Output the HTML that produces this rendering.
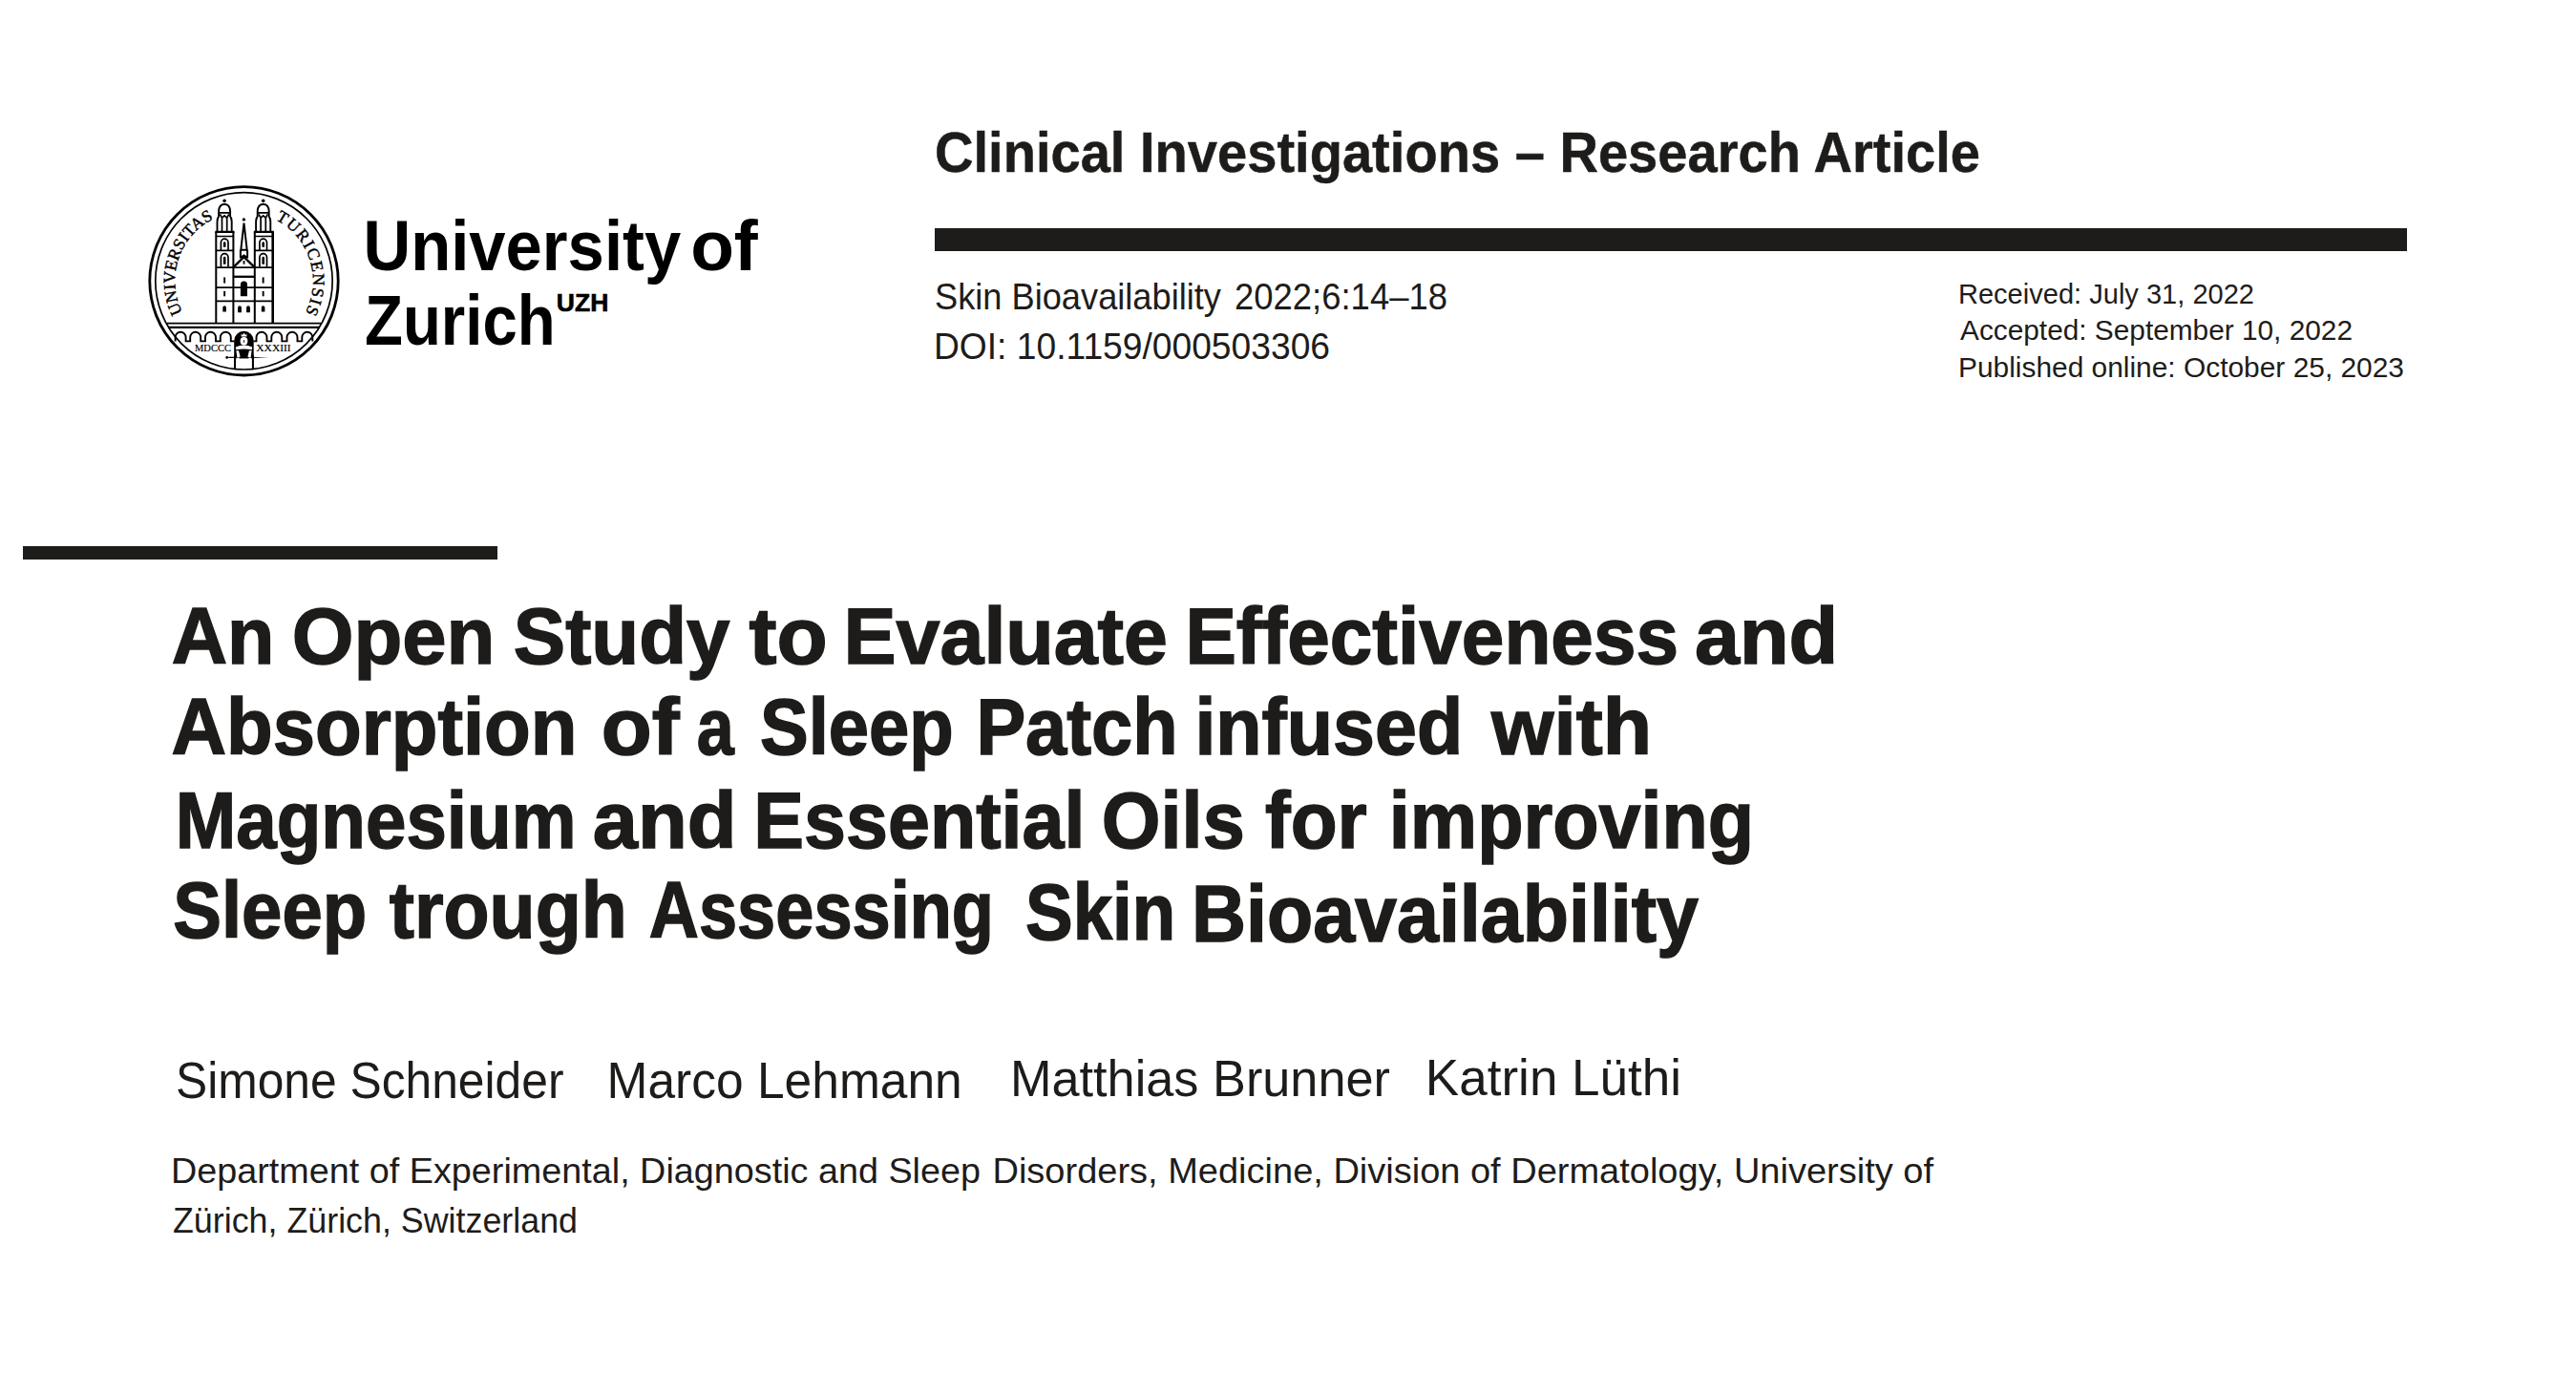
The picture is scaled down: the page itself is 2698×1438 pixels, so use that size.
<!DOCTYPE html>
<html><head><meta charset="utf-8"><title>Clinical Investigations – Research Article</title>
<style>
html,body{margin:0;padding:0;background:#fff;}
body{width:2698px;height:1438px;overflow:hidden;position:relative;}
svg{position:absolute;left:0;top:0;}
svg{font-family:"Liberation Sans",sans-serif;}
</style></head><body>
<svg width="2698" height="1438" viewBox="0 0 2698 1438">
<rect x="979" y="239" width="1542" height="24" fill="#1e1c1a"/>
<rect x="24" y="572" width="497" height="14" fill="#1e1c1a"/>
<text x="978.99" y="180.00" font-size="59.00" font-weight="700" fill="#1e1c1a" stroke="#1e1c1a" stroke-width="0.50" textLength="1095.01" lengthAdjust="spacingAndGlyphs">Clinical Investigations – Research Article</text>
<text x="978.99" y="324.00" font-size="39.00" font-weight="400" fill="#1e1c1a" textLength="300.01" lengthAdjust="spacingAndGlyphs">Skin Bioavailability</text>
<text x="1292.97" y="324.00" font-size="39.00" font-weight="400" fill="#1e1c1a" textLength="223.04" lengthAdjust="spacingAndGlyphs">2022;6:14–18</text>
<text x="977.96" y="375.50" font-size="39.00" font-weight="400" fill="#1e1c1a" textLength="415.06" lengthAdjust="spacingAndGlyphs">DOI: 10.1159/000503306</text>
<text x="2050.98" y="317.60" font-size="30.00" font-weight="400" fill="#1e1c1a" textLength="310.03" lengthAdjust="spacingAndGlyphs">Received: July 31, 2022</text>
<text x="2053.00" y="356.40" font-size="30.00" font-weight="400" fill="#1e1c1a" textLength="411.00" lengthAdjust="spacingAndGlyphs">Accepted: September 10, 2022</text>
<text x="2050.99" y="395.40" font-size="30.00" font-weight="400" fill="#1e1c1a" textLength="467.02" lengthAdjust="spacingAndGlyphs">Published online: October 25, 2023</text>
<text x="380.44" y="282.60" font-size="74.00" font-weight="700" fill="#000" textLength="332.77" lengthAdjust="spacingAndGlyphs">University</text>
<text x="723.15" y="282.60" font-size="74.00" font-weight="700" fill="#000" textLength="70.65" lengthAdjust="spacingAndGlyphs">of</text>
<text x="382.02" y="361.20" font-size="74.00" font-weight="700" fill="#000" textLength="199.59" lengthAdjust="spacingAndGlyphs">Zurich</text>
<text x="582.79" y="325.80" font-size="26.50" font-weight="700" fill="#000" stroke="#000" stroke-width="0.60" textLength="54.50" lengthAdjust="spacingAndGlyphs">UZH</text>
<text x="179.64" y="695.00" font-size="84.00" font-weight="700" fill="#1e1c1a" stroke="#1e1c1a" stroke-width="1.50" textLength="107.77" lengthAdjust="spacingAndGlyphs">An</text>
<text x="305.67" y="695.00" font-size="84.00" font-weight="700" fill="#1e1c1a" stroke="#1e1c1a" stroke-width="1.50" textLength="212.72" lengthAdjust="spacingAndGlyphs">Open</text>
<text x="537.78" y="695.00" font-size="84.00" font-weight="700" fill="#1e1c1a" stroke="#1e1c1a" stroke-width="1.50" textLength="226.64" lengthAdjust="spacingAndGlyphs">Study</text>
<text x="784.53" y="695.00" font-size="84.00" font-weight="700" fill="#1e1c1a" stroke="#1e1c1a" stroke-width="1.50" textLength="82.23" lengthAdjust="spacingAndGlyphs">to</text>
<text x="883.59" y="695.00" font-size="84.00" font-weight="700" fill="#1e1c1a" stroke="#1e1c1a" stroke-width="1.50" textLength="339.39" lengthAdjust="spacingAndGlyphs">Evaluate</text>
<text x="1241.41" y="695.00" font-size="84.00" font-weight="700" fill="#1e1c1a" stroke="#1e1c1a" stroke-width="1.50" textLength="516.64" lengthAdjust="spacingAndGlyphs">Effectiveness</text>
<text x="1775.06" y="695.00" font-size="84.00" font-weight="700" fill="#1e1c1a" stroke="#1e1c1a" stroke-width="1.50" textLength="150.18" lengthAdjust="spacingAndGlyphs">and</text>
<text x="179.46" y="790.00" font-size="84.00" font-weight="700" fill="#1e1c1a" stroke="#1e1c1a" stroke-width="1.50" textLength="425.01" lengthAdjust="spacingAndGlyphs">Absorption</text>
<text x="629.72" y="790.00" font-size="84.00" font-weight="700" fill="#1e1c1a" stroke="#1e1c1a" stroke-width="1.50" textLength="81.82" lengthAdjust="spacingAndGlyphs">of</text>
<text x="729.84" y="790.00" font-size="84.00" font-weight="700" fill="#1e1c1a" stroke="#1e1c1a" stroke-width="1.50" textLength="38.96" lengthAdjust="spacingAndGlyphs">a</text>
<text x="795.96" y="790.00" font-size="84.00" font-weight="700" fill="#1e1c1a" stroke="#1e1c1a" stroke-width="1.50" textLength="202.80" lengthAdjust="spacingAndGlyphs">Sleep</text>
<text x="1022.39" y="790.00" font-size="84.00" font-weight="700" fill="#1e1c1a" stroke="#1e1c1a" stroke-width="1.50" textLength="211.22" lengthAdjust="spacingAndGlyphs">Patch</text>
<text x="1251.39" y="790.00" font-size="84.00" font-weight="700" fill="#1e1c1a" stroke="#1e1c1a" stroke-width="1.50" textLength="280.78" lengthAdjust="spacingAndGlyphs">infused</text>
<text x="1561.99" y="790.00" font-size="84.00" font-weight="700" fill="#1e1c1a" stroke="#1e1c1a" stroke-width="1.50" textLength="168.12" lengthAdjust="spacingAndGlyphs">with</text>
<text x="183.72" y="888.00" font-size="84.00" font-weight="700" fill="#1e1c1a" stroke="#1e1c1a" stroke-width="1.50" textLength="419.78" lengthAdjust="spacingAndGlyphs">Magnesium</text>
<text x="620.89" y="888.00" font-size="84.00" font-weight="700" fill="#1e1c1a" stroke="#1e1c1a" stroke-width="1.50" textLength="150.75" lengthAdjust="spacingAndGlyphs">and</text>
<text x="789.25" y="888.00" font-size="84.00" font-weight="700" fill="#1e1c1a" stroke="#1e1c1a" stroke-width="1.50" textLength="347.31" lengthAdjust="spacingAndGlyphs">Essential</text>
<text x="1153.87" y="888.00" font-size="84.00" font-weight="700" fill="#1e1c1a" stroke="#1e1c1a" stroke-width="1.50" textLength="149.94" lengthAdjust="spacingAndGlyphs">Oils</text>
<text x="1324.98" y="888.00" font-size="84.00" font-weight="700" fill="#1e1c1a" stroke="#1e1c1a" stroke-width="1.50" textLength="106.75" lengthAdjust="spacingAndGlyphs">for</text>
<text x="1454.86" y="888.00" font-size="84.00" font-weight="700" fill="#1e1c1a" stroke="#1e1c1a" stroke-width="1.50" textLength="382.28" lengthAdjust="spacingAndGlyphs">improving</text>
<text x="181.13" y="981.80" font-size="84.00" font-weight="700" fill="#1e1c1a" stroke="#1e1c1a" stroke-width="1.50" textLength="203.14" lengthAdjust="spacingAndGlyphs">Sleep</text>
<text x="407.79" y="982.20" font-size="84.00" font-weight="700" fill="#1e1c1a" stroke="#1e1c1a" stroke-width="1.50" textLength="248.92" lengthAdjust="spacingAndGlyphs">trough</text>
<text x="679.87" y="981.60" font-size="84.00" font-weight="700" fill="#1e1c1a" stroke="#1e1c1a" stroke-width="1.50" textLength="361.01" lengthAdjust="spacingAndGlyphs">Assessing</text>
<text x="1074.00" y="984.20" font-size="84.00" font-weight="700" fill="#1e1c1a" stroke="#1e1c1a" stroke-width="1.50" textLength="157.16" lengthAdjust="spacingAndGlyphs">Skin</text>
<text x="1247.95" y="985.80" font-size="84.00" font-weight="700" fill="#1e1c1a" stroke="#1e1c1a" stroke-width="1.50" textLength="531.06" lengthAdjust="spacingAndGlyphs">Bioavailability</text>
<text x="183.99" y="1149.80" font-size="54.00" font-weight="400" fill="#1e1c1a" textLength="406.52" lengthAdjust="spacingAndGlyphs">Simone Schneider</text>
<text x="635.53" y="1149.50" font-size="54.00" font-weight="400" fill="#1e1c1a" textLength="372.23" lengthAdjust="spacingAndGlyphs">Marco Lehmann</text>
<text x="1057.95" y="1148.00" font-size="54.00" font-weight="400" fill="#1e1c1a" textLength="398.06" lengthAdjust="spacingAndGlyphs">Matthias Brunner</text>
<text x="1492.87" y="1147.00" font-size="54.00" font-weight="400" fill="#1e1c1a" textLength="268.25" lengthAdjust="spacingAndGlyphs">Katrin Lüthi</text>
<text x="178.99" y="1238.50" font-size="37.00" font-weight="400" fill="#1e1c1a" textLength="848.03" lengthAdjust="spacingAndGlyphs">Department of Experimental, Diagnostic and Sleep</text>
<text x="1039.49" y="1238.50" font-size="37.00" font-weight="400" fill="#1e1c1a" textLength="985.51" lengthAdjust="spacingAndGlyphs">Disorders, Medicine, Division of Dermatology, University of</text>
<text x="180.99" y="1290.50" font-size="37.00" font-weight="400" fill="#1e1c1a" textLength="424.02" lengthAdjust="spacingAndGlyphs">Zürich, Zürich, Switzerland</text>
<g id="logo">
 <defs>
  <path id="arcL" d="M 215.81 354.73 A 72.3 72.3 0 0 1 259.66 222.12"/>
  <path id="arcR" d="M 251.97 222.09 A 72.3 72.3 0 0 1 294.67 355.07"/>
 </defs>
 <g fill="none" stroke="#000">
  <circle cx="255.5" cy="294.3" r="98.7" stroke-width="2.8"/>
  <circle cx="255.5" cy="294.3" r="92.7" stroke-width="1.7"/>
  <!-- bridge -->
  <line x1="175" y1="338.6" x2="336" y2="338.6" stroke-width="1.7"/>
  <line x1="176" y1="342.9" x2="335" y2="342.9" stroke-width="2.3"/>
  <!-- arcade -->
  <path stroke-width="1.9" d="M183.6 357.4 V353.2 A5.5 5.5 0 0 1 194.6 353.2 V357.4 H199.2 V353.2 A5.5 5.5 0 0 1 210.2 353.2 V357.4 H215 V353.2 A5.5 5.5 0 0 1 226 353.2 V357.4 H230.8 V353.2 A5.5 5.5 0 0 1 241.8 353.2 V357.4 H245.5"/>
  <path stroke-width="1.9" d="M265.5 357.4 H268.5 V353.2 A5.5 5.5 0 0 1 279.5 353.2 V357.4 H284.3 V353.2 A5.5 5.5 0 0 1 295.3 353.2 V357.4 H300.5 V353.2 A5.5 5.5 0 0 1 311.5 353.2 V357.4 H316.3 V353.2 A5.5 5.5 0 0 1 327.3 353.2 V357.4"/>
  <!-- towers outlines -->
  <path stroke-width="2.0" d="M226.3 338.6 V242.9 M244.4 338.6 V242.9 M266.8 338.6 V242.9"/>
  <path stroke-width="2.6" d="M285.7 338.6 V242.9"/>
  <path stroke-width="2.1" d="M225.3 242.9 H245.5 M265.8 242.9 H286.8"/>
  <path stroke-width="1.7" d="M226.3 247.5 H244.4 M266.8 247.5 H285.7 M226.3 262.3 H244.4 M266.8 262.3 H285.7"/>
  <path stroke-width="1.8" d="M226.3 280.1 H285.7 M226.3 301.1 H285.7 M226.3 315.3 H285.7"/>
  <path stroke-width="2.3" d="M244.4 289.8 H266.8"/>
  <!-- belfries -->
  <path stroke-width="1.9" d="M227.5 242 V232 Q227.6 228.6 229.1 226.6 V221 Q229.4 214.2 235.1 213.7 Q240.8 214.2 241.1 221 V226.6 Q242.6 228.6 242.7 232 V242"/>
  <path stroke-width="1.7" d="M229.4 222.9 H240.8 M230.4 224.4 L232.5 228.2 L235.1 225.9 L237.7 228.2 L239.8 224.4 M232.5 228 V242 M237.7 228 V242"/>
  <path stroke-width="1.9" d="M268.1 242 V232 Q268.2 228.6 269.7 226.6 V221 Q270.0 214.2 275.7 213.7 Q281.4 214.2 281.7 221 V226.6 Q283.2 228.6 283.3 232 V242"/>
  <path stroke-width="1.7" d="M270.0 222.9 H281.4 M271.0 224.4 L273.1 228.2 L275.7 225.9 L278.3 228.2 L280.4 224.4 M273.1 228 V242 M278.3 228 V242"/>
  <!-- tower windows -->
  <path stroke-width="1.7" d="M231.4 261.9 V254 A3.8 3.8 0 0 1 239 254 V261.9 M231.4 279.6 V269.5 A3.8 3.8 0 0 1 239 269.5 V279.6 M271.9 261.9 V254 A3.8 3.8 0 0 1 279.5 254 V261.9 M271.9 279.6 V269.5 A3.8 3.8 0 0 1 279.5 269.5 V279.6"/>
  <!-- spire -->
  <path stroke-width="2.0" d="M252.3 261.8 L255.5 233.5 L258.7 261.8 M251.6 261.8 H259.4 M251.9 261.8 V270.5 M259.1 261.8 V270.5 M252.4 269.6 L255.5 267.4 L258.6 269.6"/>
  <path stroke-width="2.3" d="M244.7 279.6 L255.5 269.2 L266.3 279.6"/>
  <!-- figure frame sides -->
  <path stroke-width="2.3" d="M246.2 372 V387 M264.8 372 V387"/>
 </g>
 <g fill="#000">
  <circle cx="235.1" cy="210.2" r="1.8"/>
  <circle cx="275.7" cy="210.2" r="1.8"/>
  <circle cx="255.4" cy="229.9" r="1.7"/>
  <circle cx="237.7" cy="374.4" r="1.4"/>
  <rect x="254.6" y="273" width="1.8" height="3.7"/>
  <!-- window inner fills -->
  <path d="M233.9 258.8 V254.6 A1.3 1.3 0 0 1 236.5 254.6 V258.8 Z M233.9 276.7 V270 A1.3 1.3 0 0 1 236.5 270 V276.7 Z M274.4 258.8 V254.6 A1.3 1.3 0 0 1 277 254.6 V258.8 Z M274.4 276.7 V270 A1.3 1.3 0 0 1 277 270 V276.7 Z"/>
  <!-- slits -->
  <rect x="234.2" y="290.4" width="1.9" height="6.2"/>
  <rect x="234.2" y="304.9" width="1.9" height="5.4"/>
  <path d="M233.3 326.4 V322 A1.8 1.8 0 0 1 236.9 322 V326.4 Z"/>
  <rect x="274.7" y="290.4" width="1.9" height="6.2"/>
  <rect x="274.7" y="304.9" width="1.9" height="5.4"/>
  <path d="M273.8 326.4 V322 A1.8 1.8 0 0 1 277.4 322 V326.4 Z"/>
  <!-- central door and windows -->
  <path d="M251.9 310.3 V298 A3.55 3.55 0 0 1 259 298 V310.3 Z"/>
  <path d="M249.1 327.3 V322.2 A1.9 1.9 0 0 1 252.9 322.2 V327.3 Z M258.1 327.3 V322.2 A1.9 1.9 0 0 1 261.9 322.2 V327.3 Z"/>
  <!-- figure -->
  <path d="M245.2 375 V357 A10.25 10.25 0 0 1 265.7 357 V375 Z"/>
  <path d="M239.3 373.8 L262 373.7 L281.6 374.4 L262 375.1 L239.3 375 Z"/>
 </g>
 <g fill="#fff">
  <path d="M252.6 352.6 V349.4 L254 351 L255.5 348.6 L257 351 L258.4 349.4 V352.6 Z"/>
  <ellipse cx="255.5" cy="357.3" rx="3.9" ry="4.2"/>
  <path d="M246.8 363.6 Q255.5 359.6 264.2 363.6 L263.8 366.2 Q255.5 364.8 247.2 366.2 Z"/>
  <path d="M247.4 367.3 L250 367.3 L251.8 374.6 L248.4 374.6 Z M263.6 367.3 L261 367.3 L259.2 374.6 L262.6 374.6 Z"/>
  <path d="M247.2 376.2 H263.8 V385.6 H247.2 Z"/>
 </g>
 <rect x="255.1" y="356.2" width="0.9" height="2.6" fill="#000"/>
 <path d="M250.5 374.6 H260.5" stroke="#000" stroke-width="1.7"/>
 <!-- legend -->
 <text x="204" y="368" font-family="Liberation Serif" font-size="10" stroke="#000" stroke-width="0.15" textLength="37.9" lengthAdjust="spacingAndGlyphs" fill="#000">MDCCC</text>
 <text x="268.3" y="368" font-family="Liberation Serif" font-size="10" stroke="#000" stroke-width="0.15" textLength="36.4" lengthAdjust="spacingAndGlyphs" fill="#000">XXXIII</text>
 <text font-family="Liberation Serif" font-size="17.5" fill="#000" stroke="#000" stroke-width="0.45" text-anchor="middle"><textPath href="#arcL" startOffset="50%" textLength="115" lengthAdjust="spacing">UNIVERSITAS</textPath></text>
 <text font-family="Liberation Serif" font-size="17.5" fill="#000" stroke="#000" stroke-width="0.45" text-anchor="middle"><textPath href="#arcR" startOffset="50%" textLength="114" lengthAdjust="spacing">TURICENSIS</textPath></text>
</g>

</svg>
</body></html>
